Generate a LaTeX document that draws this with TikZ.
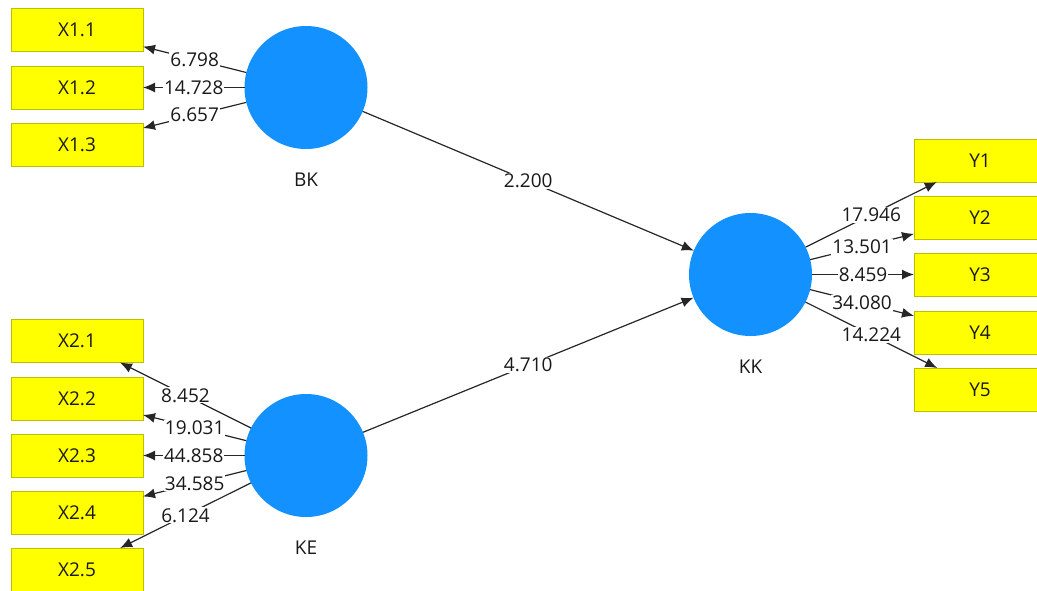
\documentclass[tikz,border=0pt]{standalone}
\usepackage{fontspec}
\setmainfont{Open Sans}
\usepackage{tikz}
\usetikzlibrary{positioning,arrows.meta}
\usepackage{xcolor}
\definecolor{lvblue}{RGB}{18,145,255}
\definecolor{mvyellow}{RGB}{255,255,0}
\definecolor{mvedge}{RGB}{190,190,0}
\definecolor{plstext}{RGB}{25,25,25}
\tikzset{
    ind/.style={
        draw=mvedge,
        fill=mvyellow,
        line width=1pt,
        minimum width=132pt,
        minimum height=43pt,
        inner sep=0pt,
        outer sep=0pt,
        text=plstext
    },
    lv/.style={
        circle,
        fill=lvblue,
        minimum size=123pt,
        inner sep=0pt,
        outer sep=0pt
    },
    lvname/.style={inner sep=2pt,text=plstext},
    pls/.style={
        line width=1.2pt,
        draw=black!85,
        -{Latex[length=12pt,width=10pt]}
    },
    coef/.style={
        fill=white,
        inner sep=1pt,
        text=plstext
    }
}
\newcommand{\indicator}[4] {
    \node[ind] (#1) at (#2, #3) {#4};
}
\newcommand{\latent}[4] {
    \node[lv] (#1) at (#2, #3) {};
    \node[below=22pt of #1,lvname] (#1name) {#4};
}
\newcommand{\loading}[3] {
    \draw[pls] (#1) -- node[coef] {#3} (#2);
}

\begin{document}
\begin{tikzpicture}[x=1pt,y=-1pt,font=\fontsize{19}{22}\selectfont]
        \useasboundingbox (0,0) rectangle (1037,590);
        % constructs
        \latent{bk}{306}{87.5}{BK}
        \latent{ke}{306}{455.5}{KE}
        \latent{kk}{750.5}{274.5}{KK}
        % indicators
        \foreach \n/\y/\t in {x11/30/X1.1,x12/87.5/X1.2,x13/144.5/X1.3,
                              x21/341/X2.1,x22/398.5/X2.2,x23/455.5/X2.3,
                              x24/513/X2.4,x25/569.5/X2.5}
            {\indicator{\n}{77}{\y}{\t}}
        \foreach \n/\y/\t in {y1/160.5/Y1,y2/217.5/Y2,y3/274.5/Y3,
                              y4/332.5/Y4,y5/389.5/Y5}
            {\indicator{\n}{980}{\y}{\t}}
        % outer loadings
        \foreach \n/\v in {x11/6.798,x12/14.728,x13/6.657}
            {\loading{bk}{\n}{\v}}
        \foreach \n/\v in {x21/8.452,x22/19.031,x23/44.858,x24/34.585,x25/6.124}
            {\loading{ke}{\n}{\v}}
        \foreach \n/\v in {y1/17.946,y2/13.501,y3/8.459,y4/34.080,y5/14.224}
            {\loading{kk}{\n}{\v}}
        % inner model
        \loading{bk}{kk}{2.200}
        \loading{ke}{kk}{4.710}
    \end{tikzpicture}
\end{document}
